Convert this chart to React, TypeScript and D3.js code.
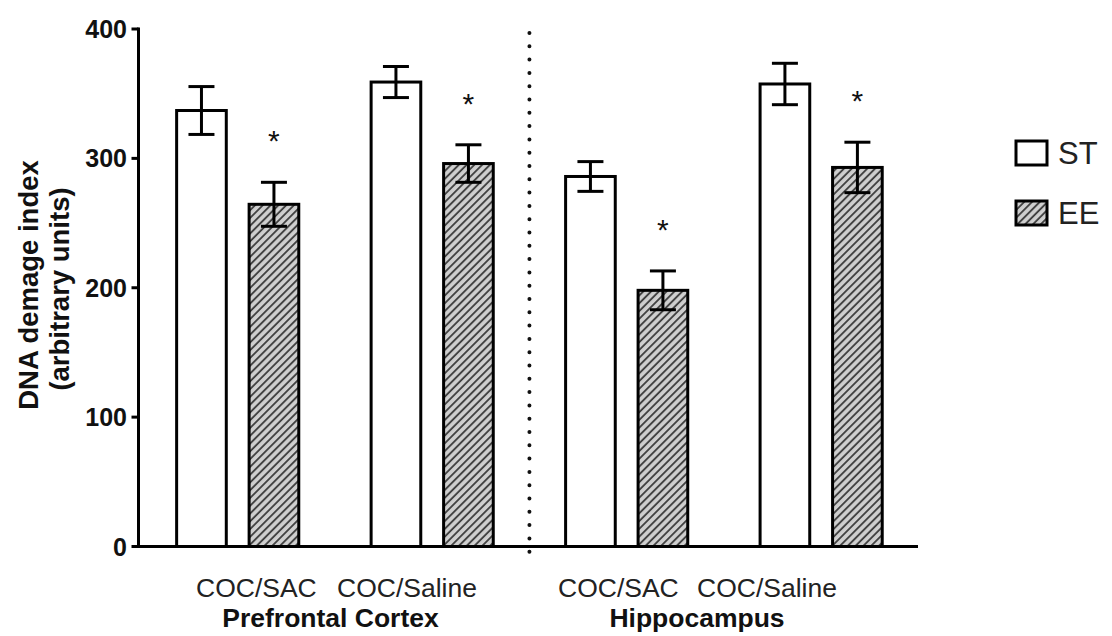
import React from "react";
import * as d3 from "d3";

// Groups and conditions
const regions = ["Prefrontal Cortex", "Hippocampus"];
const treatments = ["COC/SAC", "COC/Saline"];
const pairs = ["PFC|COC/SAC", "PFC|COC/Saline", "HIP|COC/SAC", "HIP|COC/Saline"];
const housing = ["ST", "EE"];

// Mean DNA damage index per pair, by housing
const stMeans = [337, 359, 286, 357.5];
const stSem = [18.5, 12, 11.5, 16];
const eeMeans = [264.5, 296, 198, 293];
const eeSem = [17, 14.5, 15, 19.5];
const eeSignificant = [true, true, true, true];

const yTicks = [0, 100, 200, 300, 400];

const W = 1112;
const H = 636;
const FONT = "Liberation Sans, Arial, Helvetica, sans-serif";

// Text anchors for the category labels under the axis
const treatmentLabelX = [196, 337, 558, 697];
const regionLabelX = [330.5, 697];

export default function App() {
  const y = d3.scaleLinear().domain([0, 400]).range([546.5, 29]);
  const axisX = 138.5;
  const axisEnd = 918;

  const xPair = d3
    .scaleBand<string>()
    .domain(pairs)
    .range([axisX, axisEnd])
    .paddingInner(0.372)
    .paddingOuter(0.19)
    .align(0.516);
  const xSub = d3
    .scaleBand<string>()
    .domain(housing)
    .range([0, xPair.bandwidth()])
    .paddingInner(0.315)
    .paddingOuter(0);

  const bars = pairs.flatMap((p, i) => [
    { pair: p, group: "ST", mean: stMeans[i], sem: stSem[i], star: false },
    { pair: p, group: "EE", mean: eeMeans[i], sem: eeSem[i], star: eeSignificant[i] },
  ]);

  const bw = xSub.bandwidth();
  const capHalf = 13;
  const y0 = y(0);
  const divider = (xPair(pairs[1])! + xPair.bandwidth() + xPair(pairs[2])!) / 2;

  return (
    <div style={{ position: "absolute", left: 0, top: 0, width: W, height: H, background: "#fff" }}>
      <svg width={W} height={H} viewBox={`0 0 ${W} ${H}`} style={{ display: "block" }}>
        <defs>
          <pattern
            id="hatch"
            patternUnits="userSpaceOnUse"
            width={5.5}
            height={5.5}
            patternTransform="rotate(45)"
          >
            <rect width={5.5} height={5.5} fill="#cfcfcf" />
            <line x1={1} y1={0} x2={1} y2={5.5} stroke="#3a3a3a" strokeWidth={1.8} />
          </pattern>
        </defs>

        {/* region divider */}
        <line
          x1={divider}
          x2={divider}
          y1={33}
          y2={563}
          stroke="#111"
          strokeWidth={4}
          strokeLinecap="round"
          strokeDasharray="0 13.3"
        />

        {/* bars */}
        {bars.map((b, i) => {
          const x = xPair(b.pair)! + xSub(b.group)!;
          const cx = x + bw / 2;
          const top = y(b.mean);
          const eTop = y(b.mean + b.sem);
          const eBot = y(b.mean - b.sem);
          return (
            <g key={i}>
              <rect
                x={x}
                y={top}
                width={bw}
                height={y0 - top}
                fill={b.group === "EE" ? "url(#hatch)" : "#fff"}
                stroke="#000"
                strokeWidth={3}
              />
              <line x1={cx} x2={cx} y1={eTop} y2={eBot} stroke="#000" strokeWidth={3} />
              <line x1={cx - capHalf} x2={cx + capHalf} y1={eTop} y2={eTop} stroke="#000" strokeWidth={3} />
              <line x1={cx - capHalf} x2={cx + capHalf} y1={eBot} y2={eBot} stroke="#000" strokeWidth={3} />
              {b.star && (
                <text
                  x={cx}
                  y={eTop - 44 + 13}
                  textAnchor="middle"
                  fontFamily={FONT}
                  fontSize={30}
                  fill="#111"
                >
                  *
                </text>
              )}
            </g>
          );
        })}

        {/* y axis */}
        <line x1={axisX} x2={axisX} y1={y(400) - 1.5} y2={y0 + 1.5} stroke="#000" strokeWidth={3} />
        {yTicks.map((t) => (
          <g key={t}>
            <line x1={axisX - 7} x2={axisX} y1={y(t)} y2={y(t)} stroke="#000" strokeWidth={3} />
            <text
              x={127}
              y={y(t) + 9}
              textAnchor="end"
              fontFamily={FONT}
              fontWeight="bold"
              fontSize={25}
              fill="#111"
            >
              {t}
            </text>
          </g>
        ))}

        {/* x axis */}
        <line x1={axisX} x2={axisEnd} y1={y0} y2={y0} stroke="#000" strokeWidth={3} />

        {/* y axis title */}
        <g transform={`translate(38, 285) rotate(-90)`}>
          <text x={0} y={0} textAnchor="middle" fontFamily={FONT} fontWeight="bold" fontSize={27.5} fill="#111">
            DNA demage index
          </text>
        </g>
        <g transform={`translate(69, 289) rotate(-90)`}>
          <text x={0} y={0} textAnchor="middle" fontFamily={FONT} fontWeight="bold" fontSize={27.5} fill="#111">
            (arbitrary units)
          </text>
        </g>

        {/* category labels */}
        {pairs.map((p, i) => (
          <text
            key={p}
            x={treatmentLabelX[i]}
            y={597}
            fontFamily={FONT}
            fontSize={26.5}
            fill="#222"
          >
            {treatments[i % 2]}
          </text>
        ))}
        {regions.map((r, i) => (
          <text
            key={r}
            x={regionLabelX[i]}
            y={627}
            textAnchor="middle"
            fontFamily={FONT}
            fontWeight="bold"
            fontSize={26.5}
            fill="#111"
          >
            {r}
          </text>
        ))}

        {/* legend */}
        {housing.map((h, i) => (
          <g key={h} transform={`translate(1016, ${141 + i * 60})`}>
            <rect
              x={0}
              y={0}
              width={31}
              height={24}
              fill={h === "EE" ? "url(#hatch)" : "#fff"}
              stroke="#000"
              strokeWidth={3}
            />
            <text x={42} y={23} fontFamily={FONT} fontSize={31} fill="#222">
              {h}
            </text>
          </g>
        ))}
      </svg>
    </div>
  );
}
